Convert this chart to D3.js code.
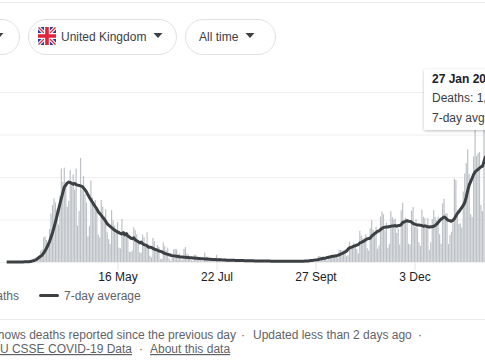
<!DOCTYPE html>
<html>
<head>
<meta charset="utf-8">
<script src="https://cdn.jsdelivr.net/npm/d3@7"></script>
<style>
  html, body { margin: 0; padding: 0; background: #fff; overflow: hidden; }
  svg { display: block; font-family: "Liberation Sans", Arial, sans-serif; }
  text { font-size: 12px; }
</style>
</head>
<body>
<svg id="chart" width="485" height="360"></svg>
<script>
// Daily deaths, one row per week, Monday 2 Mar 2020 onwards
const deaths = [
  0, 1, 0, 1, 1, 0, 1,
  1, 0, 3, 2, 1, 1, 10,
  0, 20, 16, 33, 40, 33, 56,
  60, 70, 130, 150, 290, 300, 260,
  210, 390, 570, 670, 750, 700, 620,
  440, 780, 1100, 940, 1110, 900, 650,
  720, 1080, 900, 1030, 850, 1100, 430,
  600, 1223, 850, 1010, 800, 700, 300,
  420, 960, 760, 650, 730, 620, 320,
  290, 730, 650, 540, 620, 350, 270,
  210, 610, 490, 430, 380, 470, 170,
  160, 505, 360, 340, 350, 280, 120,
  120, 135, 410, 375, 325, 215, 115,
  110, 325, 290, 175, 350, 205, 75,
  55, 285, 245, 150, 200, 180, 35,
  38, 230, 185, 135, 170, 40, 15,
  65, 150, 155, 150, 90, 100, 30,
  25, 155, 175, 100, 85, 60, 20,
  15, 85, 85, 50, 50, 25, 10,
  10, 110, 65, 60, 50, 20, 10,
  12, 20, 85, 50, 45, 40, 12,
  8, 40, 35, 30, 25, 25, 8,
  7, 25, 30, 20, 20, 15, 6,
  5, 18, 15, 18, 18, 10, 5,
  5, 15, 12, 12, 12, 8, 3,
  2, 14, 12, 10, 10, 6, 3,
  3, 9, 12, 8, 8, 5, 2,
  1, 5, 8, 7, 6, 5, 2,
  3, 8, 9, 10, 6, 6, 2,
  4, 14, 20, 21, 27, 27, 17,
  13, 71, 71, 59, 66, 33, 33,
  19, 76, 77, 87, 81, 65, 65,
  50, 143, 143, 138, 136, 150, 67,
  80, 241, 191, 189, 224, 174, 151,
  102, 367, 310, 280, 274, 326, 162,
  136, 397, 492, 378, 355, 413, 156,
  194, 532, 595, 563, 376, 462, 168,
  213, 598, 529, 501, 511, 341, 398,
  206, 608, 696, 498, 521, 479, 215,
  205, 603, 648, 414, 504, 397, 231,
  189, 616, 533, 516, 424, 519, 144,
  232, 506, 612, 532, 490, 534, 326,
  215, 691, 744, 570, 574, 210, 316,
  357, 457, 981, 964, 613, 445, 454,
  407, 830, 1041, 1162, 1325, 1035, 563,
  529, 1243, 1564, 1248, 1280, 1295, 671,
  599, 1610, 1820, 1290, 1401, 1348, 610,
  592, 1631, 1725
];

const average = [
  0, 0, 0, 0, 0, 1, 1,
  1, 1, 1, 1, 1, 2, 2,
  3, 4, 7, 10, 14, 20, 30,
  42, 55, 68, 80, 105, 130, 165,
  200, 240, 290, 345, 405, 470, 540,
  610, 680, 750, 815, 880, 905, 930,
  940, 935, 925, 915, 925, 910, 905,
  900, 895, 890, 870, 850, 825, 790,
  760, 730, 705, 675, 650, 625, 590,
  570, 550, 525, 505, 480, 450, 435,
  420, 405, 390, 375, 365, 355, 345,
  335, 330, 345, 320, 335, 305, 295,
  280, 275, 285, 260, 250, 240, 225,
  235, 215, 205, 200, 190, 175, 175,
  170, 160, 150, 145, 140, 130, 125,
  120, 110, 100, 95, 90, 85, 80,
  75, 72, 70, 68, 65, 62, 60,
  58, 56, 55, 53, 52, 51, 50,
  48, 46, 44, 43, 42, 40, 39,
  38, 36, 35, 34, 33, 32, 30,
  28, 28, 27, 27, 26, 26, 25,
  24, 23, 22, 22, 21, 21, 20,
  20, 19, 19, 18, 18, 17, 17,
  16, 16, 15, 15, 15, 14, 14,
  13, 13, 13, 12, 12, 12, 12,
  11, 11, 11, 11, 10, 10, 10,
  10, 10, 10, 10, 9, 9, 9,
  9, 8, 8, 8, 8, 8, 8,
  8, 8, 9, 9, 10, 10, 11,
  12, 13, 15, 17, 19, 22, 25,
  27, 30, 34, 38, 42, 45, 48,
  52, 56, 60, 64, 67, 70, 74,
  78, 85, 92, 100, 108, 118, 128,
  150, 165, 172, 178, 188, 192, 200,
  205, 225, 232, 240, 248, 262, 272,
  277, 280, 305, 320, 335, 345, 362,
  365, 382, 395, 405, 410, 412, 412,
  418, 420, 425, 425, 430, 420, 430,
  430, 440, 465, 470, 480, 485, 480,
  478, 470, 455, 445, 440, 435, 435,
  432, 430, 420, 425, 420, 415, 410,
  415, 415, 420, 430, 445, 465, 485,
  505, 515, 530, 520, 500, 490, 485,
  480, 490, 510, 540, 570, 590, 615,
  640, 665, 700, 760, 840, 905, 945,
  985, 1030, 1060, 1075, 1090, 1105, 1120,
  1125, 1180, 1235, 1225, 1240, 1245, 1240,
  1245, 1250, 1245
];

const tickDates = ["2020-05-16", "2020-07-22", "2020-09-27", "2020-12-03"];
const tickLabels = ["16 May", "22 Jul", "27 Sept", "3 Dec"];
const gridValues = [0, 500, 1000, 1500, 2000];

const svg = d3.select("#chart");
const grey = "#5f6368";

const days = deaths.map((d, i) => new Date(Date.UTC(2020, 2, 2 + i)));

const x = d3.scaleUtc()
  .domain([new Date("2020-05-16"), new Date("2020-12-03")])
  .range([117.5, 414.5]);
const y = d3.scaleLinear().domain([0, 2000]).range([262, 92]);

// separators
svg.append("line").attr("x1", 0).attr("x2", 485).attr("y1", 2.5).attr("y2", 2.5)
  .attr("stroke", "#ebebeb").attr("stroke-width", 1);
svg.append("line").attr("x1", 0).attr("x2", 485).attr("y1", 319.5).attr("y2", 319.5)
  .attr("stroke", "#ebebeb").attr("stroke-width", 1);

// gridlines
const gridAxis = d3.axisLeft(y).tickValues(gridValues).tickSize(-485).tickFormat("");
const grid = svg.append("g").call(gridAxis);
grid.select(".domain").remove();
grid.selectAll("line").attr("stroke", "#f0f0f0");

// x axis
const xAxis = d3.axisBottom(x)
  .tickValues(tickDates.map(d => new Date(d)))
  .tickFormat((d, i) => tickLabels[i])
  .tickSize(8)
  .tickPadding(2);
const axisG = svg.append("g").attr("transform", "translate(0,262)").call(xAxis);
axisG.select(".domain").remove();
axisG.selectAll("line").attr("stroke", "#e4e4e4");
axisG.selectAll("text")
  .attr("fill", "#202124")
  .style("font-size", "12px")
  .style("font-family", '"Liberation Sans", Arial, sans-serif');

// bars
svg.append("g").selectAll("rect")
  .data(deaths)
  .join("rect")
  .attr("x", (d, i) => x(days[i]) - 0.6)
  .attr("width", 1.2)
  .attr("y", d => y(d))
  .attr("height", d => y(0) - y(d))
  .attr("fill", "#bdc1c6");

// 7-day average
const line = d3.line()
  .x((d, i) => x(days[i]))
  .y(d => y(d));
svg.append("path")
  .attr("d", line(average))
  .attr("fill", "none")
  .attr("stroke", "#3c4043")
  .attr("stroke-width", 3)
  .attr("stroke-linejoin", "round");

// dropdown pills
function pill(px, w) {
  svg.append("rect")
    .attr("x", px + 0.5).attr("y", 19.5)
    .attr("width", w).attr("height", 35)
    .attr("rx", 17.5)
    .attr("fill", "#fff")
    .attr("stroke", "#dfe1e5");
}
function caret(cx) {
  svg.append("path")
    .attr("d", d3.line()([[cx - 4.5, 33], [cx + 4.5, 33], [cx, 38]]))
    .attr("fill", "#3c4043");
}
pill(-100, 119);
caret(-1);
pill(28, 148);
svg.append("text").attr("x", 61).attr("y", 41).attr("fill", "#3c4043")
  .style("font-size", "12px").text("United Kingdom");
caret(158);
pill(185, 90);
svg.append("text").attr("x", 199).attr("y", 41).attr("fill", "#3c4043")
  .style("font-size", "12px").text("All time");
caret(250);

// union flag
const flag = svg.append("g").attr("transform", "translate(38,27)");
flag.append("clipPath").attr("id", "flag-clip")
  .append("rect").attr("width", 18).attr("height", 18).attr("rx", 2);
const flagG = flag.append("g").attr("clip-path", "url(#flag-clip)");
flagG.append("rect").attr("width", 18).attr("height", 18).attr("fill", "#23408f");
flagG.append("path").attr("d", "M0,0L18,18M18,0L0,18").attr("stroke", "#e9e9ee").attr("stroke-width", 3.6);
flagG.append("path").attr("d", "M0,0L18,18M18,0L0,18").attr("stroke", "#d8253f").attr("stroke-width", 1.2);
flagG.append("path").attr("d", "M9,0V18M0,9H18").attr("stroke", "#f4f4f6").attr("stroke-width", 6);
flagG.append("path").attr("d", "M9,0V18M0,9H18").attr("stroke", "#e0243c").attr("stroke-width", 3.6);

// tooltip
const shadow = svg.append("defs").append("filter").attr("id", "tip-shadow")
  .attr("x", "-10%").attr("y", "-10%").attr("width", "120%").attr("height", "130%");
shadow.append("feDropShadow")
  .attr("dx", 0).attr("dy", 1).attr("stdDeviation", 1.5)
  .attr("flood-color", "#000").attr("flood-opacity", 0.25);
svg.append("rect")
  .attr("x", 424).attr("y", 69).attr("width", 110).attr("height", 61).attr("rx", 2)
  .attr("fill", "#fff").attr("filter", "url(#tip-shadow)");
svg.append("text").attr("x", 432).attr("y", 83).attr("fill", "#202124")
  .attr("font-weight", "bold").text("27 Jan 2021");
svg.append("text").attr("x", 432).attr("y", 102).attr("fill", "#3c4043").text("Deaths: 1,725");
svg.append("text").attr("x", 432).attr("y", 122).attr("fill", "#3c4043").text("7-day avg: 1,245");

// legend
svg.append("text").attr("x", 19).attr("y", 300).attr("text-anchor", "end")
  .attr("fill", grey).text("Deaths");
svg.append("line").attr("x1", 40.5).attr("x2", 57.5).attr("y1", 295.5).attr("y2", 295.5)
  .attr("stroke", "#3c4043").attr("stroke-width", 3).attr("stroke-linecap", "round");
svg.append("text").attr("x", 64).attr("y", 300).attr("fill", grey).text("7-day average");

// footer
svg.append("text").attr("x", 236).attr("y", 339).attr("text-anchor", "end").attr("fill", grey)
  .text("Each day shows deaths reported since the previous day");
svg.append("text").attr("x", 243).attr("y", 339).attr("text-anchor", "middle").attr("fill", grey).text("·");
svg.append("text").attr("x", 253).attr("y", 339).attr("fill", grey).text("Updated less than 2 days ago");
svg.append("text").attr("x", 420).attr("y", 339).attr("text-anchor", "middle").attr("fill", grey).text("·");
svg.append("text").attr("x", 132).attr("y", 353).attr("text-anchor", "end").attr("fill", grey)
  .attr("text-decoration", "underline").text("JHU CSSE COVID-19 Data");
svg.append("text").attr("x", 141).attr("y", 353).attr("text-anchor", "middle").attr("fill", grey).text("·");
svg.append("text").attr("x", 150).attr("y", 353).attr("fill", grey)
  .attr("text-decoration", "underline").text("About this data");
</script>
</body>
</html>
